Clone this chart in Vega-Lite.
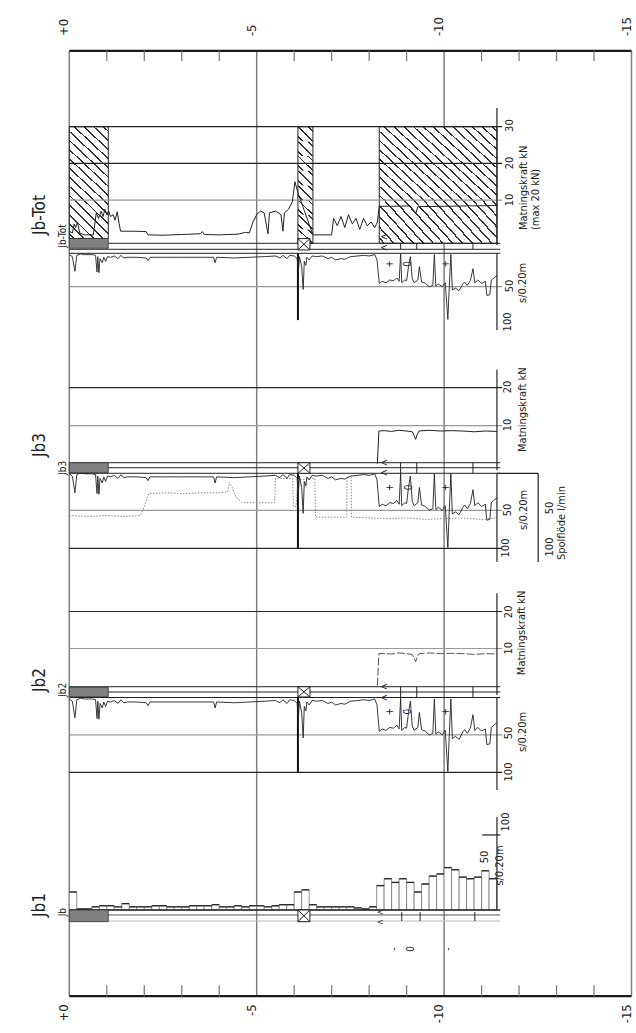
{
"$schema": "https://vega.github.io/schema/vega-lite/v6.json",
"width": 636, "height": 1033, "padding": 0, "autosize": {"type": "none"},
"background": "white",
"config": {"view": {"stroke": null}, "text": {"font": "DejaVu Sans Condensed, Liberation Sans Narrow, sans-serif", "color": "#222"}},
"data": {"values": [{}]},
"datasets": {
"scurve": [{"d":0,"s":2},{"d":0.08,"s":5},{"d":0.15,"s":27},{"d":0.2,"s":3},{"d":0.3,"s":1},{"d":0.4,"s":2},{"d":0.5,"s":2},{"d":0.62,"s":2},{"d":0.7,"s":3},{"d":0.74,"s":28},{"d":0.76,"s":5},{"d":0.79,"s":29},{"d":0.82,"s":8},{"d":0.88,"s":14},{"d":0.92,"s":6},{"d":0.97,"s":12},{"d":1.02,"s":5},{"d":1.1,"s":6},{"d":1.2,"s":4},{"d":1.3,"s":8},{"d":1.38,"s":3},{"d":1.45,"s":7},{"d":1.55,"s":6},{"d":1.8,"s":6},{"d":2.05,"s":7},{"d":2.1,"s":11},{"d":2.15,"s":6},{"d":2.6,"s":6},{"d":3.0,"s":6},{"d":3.5,"s":6},{"d":3.85,"s":6},{"d":3.89,"s":14},{"d":3.93,"s":6},{"d":4.4,"s":7},{"d":4.8,"s":6},{"d":5.2,"s":5},{"d":5.5,"s":4},{"d":5.62,"s":7},{"d":5.7,"s":3},{"d":5.81,"s":8},{"d":5.88,"s":3},{"d":6.0,"s":4},{"d":6.08,"s":8},{"d":6.11,"s":30},{"d":6.14,"s":5},{"d":6.2,"s":20},{"d":6.24,"s":54},{"d":6.27,"s":12},{"d":6.31,"s":18},{"d":6.34,"s":6},{"d":6.4,"s":10},{"d":6.48,"s":4},{"d":6.6,"s":5},{"d":6.75,"s":4},{"d":6.9,"s":8},{"d":7.0,"s":6},{"d":7.1,"s":10},{"d":7.25,"s":8},{"d":7.35,"s":9},{"d":7.5,"s":5},{"d":7.7,"s":4},{"d":7.85,"s":3},{"d":8.0,"s":4},{"d":8.15,"s":2},{"d":8.21,"s":10},{"d":8.27,"s":45},{"d":8.35,"s":42},{"d":8.45,"s":44},{"d":8.55,"s":40},{"d":8.65,"s":41},{"d":8.74,"s":37},{"d":8.8,"s":42},{"d":8.84,"s":1},{"d":8.87,"s":44},{"d":8.95,"s":40},{"d":9.0,"s":41},{"d":9.05,"s":20},{"d":9.1,"s":5},{"d":9.15,"s":38},{"d":9.2,"s":44},{"d":9.3,"s":40},{"d":9.34,"s":20},{"d":9.4,"s":43},{"d":9.5,"s":45},{"d":9.6,"s":50},{"d":9.7,"s":48},{"d":9.74,"s":2},{"d":9.78,"s":49},{"d":9.85,"s":46},{"d":9.95,"s":50},{"d":10.03,"s":44},{"d":10.08,"s":83},{"d":10.1,"s":99},{"d":10.13,"s":60},{"d":10.18,"s":2},{"d":10.22,"s":55},{"d":10.3,"s":52},{"d":10.4,"s":56},{"d":10.5,"s":46},{"d":10.55,"s":43},{"d":10.62,"s":48},{"d":10.7,"s":41},{"d":10.77,"s":23},{"d":10.82,"s":44},{"d":10.9,"s":40},{"d":11.0,"s":45},{"d":11.1,"s":42},{"d":11.14,"s":63},{"d":11.22,"s":62},{"d":11.26,"s":40},{"d":11.35,"s":36},{"d":11.41,"s":34}],
"flow": [{"d":0,"q":57},{"d":0.5,"q":58},{"d":1.0,"q":57},{"d":1.5,"q":58},{"d":1.9,"q":57},{"d":2.0,"q":45},{"d":2.12,"q":28},{"d":2.6,"q":27},{"d":3.0,"q":28},{"d":3.5,"q":27},{"d":4.0,"q":27},{"d":4.22,"q":26},{"d":4.27,"q":13},{"d":4.33,"q":18},{"d":4.45,"q":33},{"d":4.62,"q":40},{"d":5.0,"q":40},{"d":5.48,"q":40},{"d":5.5,"q":8},{"d":5.96,"q":8},{"d":5.98,"q":45},{"d":6.05,"q":45},{"d":6.1,"q":10},{"d":6.55,"q":8},{"d":6.57,"q":59},{"d":7.4,"q":59},{"d":7.41,"q":6},{"d":7.52,"q":6},{"d":7.53,"q":59},{"d":8.0,"q":60},{"d":8.5,"q":61},{"d":9.0,"q":60},{"d":9.5,"q":62},{"d":10.0,"q":61},{"d":10.5,"q":60},{"d":11.0,"q":62},{"d":11.41,"q":60}],
"kntot": [{"d":0,"k":1.5},{"d":0.08,"k":1},{"d":0.13,"k":3.5},{"d":0.17,"k":2.5},{"d":0.22,"k":4},{"d":0.28,"k":1},{"d":0.4,"k":0.5},{"d":0.64,"k":0.5},{"d":0.72,"k":6.5},{"d":0.78,"k":5},{"d":0.85,"k":7},{"d":0.9,"k":5.5},{"d":0.95,"k":7.5},{"d":1.0,"k":6},{"d":1.05,"k":7},{"d":1.1,"k":5.5},{"d":1.17,"k":6},{"d":1.22,"k":4.5},{"d":1.28,"k":6.8},{"d":1.33,"k":3.5},{"d":1.37,"k":1.5},{"d":1.7,"k":1.5},{"d":2.05,"k":1.4},{"d":2.1,"k":0.5},{"d":2.5,"k":0.4},{"d":3.0,"k":0.6},{"d":3.5,"k":0.8},{"d":3.55,"k":1.4},{"d":3.6,"k":0.6},{"d":4.0,"k":0.5},{"d":4.5,"k":0.7},{"d":4.7,"k":1.2},{"d":4.8,"k":1},{"d":4.9,"k":4},{"d":5.0,"k":6},{"d":5.1,"k":7},{"d":5.2,"k":6.5},{"d":5.3,"k":0.8},{"d":5.34,"k":6.5},{"d":5.5,"k":7},{"d":5.65,"k":6},{"d":5.7,"k":1.5},{"d":5.74,"k":6.5},{"d":5.85,"k":7.5},{"d":5.95,"k":9.5},{"d":6.02,"k":15},{"d":6.1,"k":12},{"d":6.5,"k":0.5},{"d":7.0,"k":0.5},{"d":7.05,"k":5},{"d":7.15,"k":3},{"d":7.25,"k":5.5},{"d":7.35,"k":2.5},{"d":7.45,"k":6},{"d":7.55,"k":3.5},{"d":7.65,"k":5},{"d":7.75,"k":2},{"d":7.85,"k":5},{"d":7.95,"k":3},{"d":8.05,"k":4},{"d":8.15,"k":2.5},{"d":8.22,"k":4},{"d":8.27,"k":8.3},{"d":8.6,"k":8.3},{"d":9.1,"k":8.4},{"d":9.2,"k":7},{"d":9.25,"k":6.5},{"d":9.3,"k":8.2},{"d":10.0,"k":8.3},{"d":10.7,"k":8.4},{"d":11.41,"k":8.5}],
"knhi": [{"d":8.22,"k":0},{"d":8.26,"k":8.6},{"d":8.4,"k":8.7},{"d":8.6,"k":8.5},{"d":8.8,"k":8.8},{"d":9.0,"k":8.6},{"d":9.15,"k":8.4},{"d":9.2,"k":7.4},{"d":9.24,"k":6.4},{"d":9.28,"k":7.6},{"d":9.33,"k":8.6},{"d":9.6,"k":8.8},{"d":9.9,"k":8.6},{"d":10.2,"k":8.7},{"d":10.5,"k":8.6},{"d":10.8,"k":8.4},{"d":11.1,"k":8.6},{"d":11.41,"k":8.5}],
"bars1": [{"d0":0,"d1":0.2,"s":17},{"d0":0.2,"d1":0.4,"s":1},{"d0":0.4,"d1":0.6,"s":1},{"d0":0.6,"d1":0.8,"s":3},{"d0":0.8,"d1":1.0,"s":4},{"d0":1.0,"d1":1.2,"s":4},{"d0":1.2,"d1":1.4,"s":3},{"d0":1.4,"d1":1.6,"s":6},{"d0":1.6,"d1":1.8,"s":3},{"d0":1.8,"d1":2.0,"s":3},{"d0":2.0,"d1":2.2,"s":3},{"d0":2.2,"d1":2.4,"s":4},{"d0":2.4,"d1":2.6,"s":4},{"d0":2.6,"d1":2.8,"s":3},{"d0":2.8,"d1":3.0,"s":3},{"d0":3.0,"d1":3.2,"s":3},{"d0":3.2,"d1":3.4,"s":4},{"d0":3.4,"d1":3.6,"s":4},{"d0":3.6,"d1":3.8,"s":4},{"d0":3.8,"d1":4.0,"s":5},{"d0":4.0,"d1":4.2,"s":3},{"d0":4.2,"d1":4.4,"s":3},{"d0":4.4,"d1":4.6,"s":4},{"d0":4.6,"d1":4.8,"s":3},{"d0":4.8,"d1":5.0,"s":4},{"d0":5.0,"d1":5.2,"s":4},{"d0":5.2,"d1":5.4,"s":3},{"d0":5.4,"d1":5.6,"s":4},{"d0":5.6,"d1":5.8,"s":5},{"d0":5.8,"d1":6.0,"s":5},{"d0":6.0,"d1":6.2,"s":17},{"d0":6.2,"d1":6.4,"s":19},{"d0":6.4,"d1":6.6,"s":5},{"d0":6.6,"d1":6.8,"s":3},{"d0":6.8,"d1":7.0,"s":3},{"d0":7.0,"d1":7.2,"s":3},{"d0":7.2,"d1":7.4,"s":3},{"d0":7.4,"d1":7.6,"s":3},{"d0":7.6,"d1":7.8,"s":2},{"d0":7.8,"d1":8.0,"s":1},{"d0":8.0,"d1":8.2,"s":3},{"d0":8.2,"d1":8.4,"s":23},{"d0":8.4,"d1":8.6,"s":29.5},{"d0":8.6,"d1":8.8,"s":26},{"d0":8.8,"d1":9.0,"s":29.5},{"d0":9.0,"d1":9.2,"s":26},{"d0":9.2,"d1":9.4,"s":17},{"d0":9.4,"d1":9.6,"s":24.5},{"d0":9.6,"d1":9.8,"s":32},{"d0":9.8,"d1":10.0,"s":34},{"d0":10.0,"d1":10.2,"s":40},{"d0":10.2,"d1":10.4,"s":38},{"d0":10.4,"d1":10.6,"s":31},{"d0":10.6,"d1":10.8,"s":29.5},{"d0":10.8,"d1":11.0,"s":31},{"d0":11.0,"d1":11.2,"s":37},{"d0":11.2,"d1":11.4,"s":29.5}],
"ticks": [{"d":1},{"d":2},{"d":3},{"d":4},{"d":6},{"d":7},{"d":8},{"d":9},{"d":11},{"d":12},{"d":13},{"d":14}],
"bandticks": [{"d":8.84},{"d":9.27},{"d":10.77}]
},
"resolve": {"scale": {"y": "independent"}},
"layer": [
{"layer": [
 {"data": {"values": [{"d":0},{"d":5},{"d":10},{"d":15}]}, "mark": {"type":"rule","color":"#808080","strokeWidth":1.5},
  "encoding": {"x": {"field":"d","type":"quantitative","scale":{"domain":[-1.849,15.12],"nice":false,"zero":false},"axis":null}, "y": {"datum":50.7,"type":"quantitative","scale":{"domain":[-217.15,64.55],"nice":false,"zero":false},"axis":null}, "y2": {"datum":-207.1}}},
 {"mark": {"type":"rule","color":"#1a1a1a","strokeWidth":2.2},
  "encoding": {"x": {"datum":0,"type":"quantitative","scale":{"domain":[-1.849,15.12],"nice":false,"zero":false},"axis":null}, "x2": {"datum":15}, "y": {"datum":50.7,"type":"quantitative","scale":{"domain":[-217.15,64.55],"nice":false,"zero":false},"axis":null}}},
 {"mark": {"type":"rule","color":"#1a1a1a","strokeWidth":2.2},
  "encoding": {"x": {"datum":0,"type":"quantitative","scale":{"domain":[-1.849,15.12],"nice":false,"zero":false},"axis":null}, "x2": {"datum":15}, "y": {"datum":-207.1,"type":"quantitative","scale":{"domain":[-217.15,64.55],"nice":false,"zero":false},"axis":null}}},
 {"data": {"name":"ticks"}, "mark": {"type":"rule","color":"#777","strokeWidth":1.2},
  "encoding": {"x": {"field":"d","type":"quantitative","scale":{"domain":[-1.849,15.12],"nice":false,"zero":false},"axis":null}, "y": {"datum":50.7,"type":"quantitative","scale":{"domain":[-217.15,64.55],"nice":false,"zero":false},"axis":null}, "y2": {"datum":47.9}}},
 {"data": {"name":"ticks"}, "mark": {"type":"rule","color":"#777","strokeWidth":1.2},
  "encoding": {"x": {"field":"d","type":"quantitative","scale":{"domain":[-1.849,15.12],"nice":false,"zero":false},"axis":null}, "y": {"datum":-204.1,"type":"quantitative","scale":{"domain":[-217.15,64.55],"nice":false,"zero":false},"axis":null}, "y2": {"datum":-207.1}}},
 {"data": {"values": [{"d":0,"t":"+0"},{"d":5,"t":"-5"},{"d":10,"t":"-10"},{"d":15,"t":"-15"}]}, "mark": {"type":"text","angle":270,"align":"left","baseline":"middle","dy":-5,"fontSize":13},
  "encoding": {"x": {"field":"d","type":"quantitative","scale":{"domain":[-1.849,15.12],"nice":false,"zero":false},"axis":null}, "y": {"datum":54.7,"type":"quantitative","scale":{"domain":[-217.15,64.55],"nice":false,"zero":false},"axis":null}, "text": {"field":"t"}}},
 {"data": {"values": [{"d":0,"t":"+0"},{"d":5,"t":"-5"},{"d":10,"t":"-10"},{"d":15,"t":"-15"}]}, "mark": {"type":"text","angle":270,"align":"right","baseline":"middle","dy":-5,"fontSize":13},
  "encoding": {"x": {"field":"d","type":"quantitative","scale":{"domain":[-1.849,15.12],"nice":false,"zero":false},"axis":null}, "y": {"datum":-209.3,"type":"quantitative","scale":{"domain":[-217.15,64.55],"nice":false,"zero":false},"axis":null}, "text": {"field":"t"}}}
]},
{"layer": [
 {"data": {"values": [{"d0":0,"d1":1.04,"k0":-0.5,"k1":10},{"d0":0,"d1":1.04,"k0":10,"k1":20},{"d0":0,"d1":1.04,"k0":20,"k1":30},{"d0":8.27,"d1":9.317,"k0":-1.8,"k1":10},{"d0":8.27,"d1":9.317,"k0":10,"k1":20},{"d0":8.27,"d1":9.317,"k0":20,"k1":30},{"d0":9.317,"d1":10.363,"k0":-1.8,"k1":10},{"d0":9.317,"d1":10.363,"k0":10,"k1":20},{"d0":9.317,"d1":10.363,"k0":20,"k1":30},{"d0":10.363,"d1":11.41,"k0":-1.8,"k1":10},{"d0":10.363,"d1":11.41,"k0":10,"k1":20},{"d0":10.363,"d1":11.41,"k0":20,"k1":30}]},
  "mark": {"type":"rect","fill":{"gradient":"linear","x1":0,"y1":1,"x2":1,"y2":0,"stops":[{"offset":0,"color":"#ffffff"},{"offset":0.0505,"color":"#ffffff"},{"offset":0.0505,"color":"#333333"},{"offset":0.0745,"color":"#333333"},{"offset":0.0745,"color":"#ffffff"},{"offset":0.1755,"color":"#ffffff"},{"offset":0.1755,"color":"#333333"},{"offset":0.1995,"color":"#333333"},{"offset":0.1995,"color":"#ffffff"},{"offset":0.3005,"color":"#ffffff"},{"offset":0.3005,"color":"#333333"},{"offset":0.3245,"color":"#333333"},{"offset":0.3245,"color":"#ffffff"},{"offset":0.4255,"color":"#ffffff"},{"offset":0.4255,"color":"#333333"},{"offset":0.4495,"color":"#333333"},{"offset":0.4495,"color":"#ffffff"},{"offset":0.5505,"color":"#ffffff"},{"offset":0.5505,"color":"#333333"},{"offset":0.5745,"color":"#333333"},{"offset":0.5745,"color":"#ffffff"},{"offset":0.6755,"color":"#ffffff"},{"offset":0.6755,"color":"#333333"},{"offset":0.6995,"color":"#333333"},{"offset":0.6995,"color":"#ffffff"},{"offset":0.8005,"color":"#ffffff"},{"offset":0.8005,"color":"#333333"},{"offset":0.8245,"color":"#333333"},{"offset":0.8245,"color":"#ffffff"},{"offset":0.9255,"color":"#ffffff"},{"offset":0.9255,"color":"#333333"},{"offset":0.9495,"color":"#333333"},{"offset":0.9495,"color":"#ffffff"},{"offset":1,"color":"#ffffff"}]}},
  "encoding": {"x": {"field":"d0","type":"quantitative","scale":{"domain":[-1.849,15.12],"nice":false,"zero":false},"axis":null}, "x2": {"field":"d1"}, "y": {"field":"k0","type":"quantitative","scale":{"domain":[-217.15,64.55],"nice":false,"zero":false},"axis":null}, "y2": {"field":"k1"}}},
 {"data": {"values": [{"d0":6.1,"d1":6.5,"k0":-1.8,"k1":2},{"d0":6.1,"d1":6.5,"k0":2,"k1":6},{"d0":6.1,"d1":6.5,"k0":6,"k1":10},{"d0":6.1,"d1":6.5,"k0":10,"k1":14},{"d0":6.1,"d1":6.5,"k0":14,"k1":18},{"d0":6.1,"d1":6.5,"k0":18,"k1":22},{"d0":6.1,"d1":6.5,"k0":22,"k1":26},{"d0":6.1,"d1":6.5,"k0":26,"k1":30}]},
  "mark": {"type":"rect","fill":{"gradient":"linear","x1":0,"y1":1,"x2":1,"y2":0,"stops":[{"offset":0,"color":"#ffffff"},{"offset":0.137,"color":"#ffffff"},{"offset":0.137,"color":"#333333"},{"offset":0.197,"color":"#333333"},{"offset":0.197,"color":"#ffffff"},{"offset":0.47,"color":"#ffffff"},{"offset":0.47,"color":"#333333"},{"offset":0.53,"color":"#333333"},{"offset":0.53,"color":"#ffffff"},{"offset":0.803,"color":"#ffffff"},{"offset":0.803,"color":"#333333"},{"offset":0.863,"color":"#333333"},{"offset":0.863,"color":"#ffffff"},{"offset":1,"color":"#ffffff"}]}},
  "encoding": {"x": {"field":"d0","type":"quantitative","scale":{"domain":[-1.849,15.12],"nice":false,"zero":false},"axis":null}, "x2": {"field":"d1"}, "y": {"field":"k0","type":"quantitative","scale":{"domain":[-217.15,64.55],"nice":false,"zero":false},"axis":null}, "y2": {"field":"k1"}}},
 {"data": {"values": [{"d0":0,"d1":1.04,"k0":-0.5,"k1":30},{"d0":6.1,"d1":6.5,"k0":-1.8,"k1":30},{"d0":8.27,"d1":11.41,"k0":-1.8,"k1":30}]},
  "mark": {"type":"rect","fillOpacity":0,"stroke":"#222","strokeWidth":1},
  "encoding": {"x": {"field":"d0","type":"quantitative","scale":{"domain":[-1.849,15.12],"nice":false,"zero":false},"axis":null}, "x2": {"field":"d1"}, "y": {"field":"k0","type":"quantitative","scale":{"domain":[-217.15,64.55],"nice":false,"zero":false},"axis":null}, "y2": {"field":"k1"}}},
 {"data": {"values": [{"k":30},{"k":20}]}, "mark": {"type":"rule","color":"#222","strokeWidth":1.2},
  "encoding": {"x": {"datum":0,"type":"quantitative","scale":{"domain":[-1.849,15.12],"nice":false,"zero":false},"axis":null}, "x2": {"datum":11.55}, "y": {"field":"k","type":"quantitative","scale":{"domain":[-217.15,64.55],"nice":false,"zero":false},"axis":null}}},
 {"data": {"values": [{"k":10}]}, "mark": {"type":"rule","color":"#999","strokeWidth":1.2},
  "encoding": {"x": {"datum":0,"type":"quantitative","scale":{"domain":[-1.849,15.12],"nice":false,"zero":false},"axis":null}, "x2": {"datum":11.55}, "y": {"field":"k","type":"quantitative","scale":{"domain":[-217.15,64.55],"nice":false,"zero":false},"axis":null}}},
 {"mark": {"type":"rule","color":"#222","strokeWidth":1.2},
  "encoding": {"x": {"datum":11.41,"type":"quantitative","scale":{"domain":[-1.849,15.12],"nice":false,"zero":false},"axis":null}, "y": {"datum":35.1,"type":"quantitative","scale":{"domain":[-217.15,64.55],"nice":false,"zero":false},"axis":null}, "y2": {"datum":-2.3}}},
 {"data": {"name":"kntot"}, "mark": {"type":"line","color":"#222","strokeWidth":1},
  "encoding": {"x": {"field":"d","type":"quantitative","scale":{"domain":[-1.849,15.12],"nice":false,"zero":false},"axis":null}, "y": {"field":"k","type":"quantitative","scale":{"domain":[-217.15,64.55],"nice":false,"zero":false},"axis":null}}},
 {"data": {"values": [{"d":11.76,"k":30.3,"t":"30"},{"d":11.76,"k":20.1,"t":"20"},{"d":11.76,"k":10,"t":"10"}]}, "mark": {"type":"text","angle":270,"align":"center","baseline":"middle","fontSize":11},
  "encoding": {"x": {"field":"d","type":"quantitative","scale":{"domain":[-1.849,15.12],"nice":false,"zero":false},"axis":null}, "y": {"field":"k","type":"quantitative","scale":{"domain":[-217.15,64.55],"nice":false,"zero":false},"axis":null}, "text": {"field":"t"}}},
 {"data": {"values": [{"d":12.13,"k":1.8,"t":"Matningskraft kN"},{"d":12.45,"k":1.8,"t":"(max 20 kN)"}]}, "mark": {"type":"text","angle":270,"align":"left","baseline":"middle","fontSize":11},
  "encoding": {"x": {"field":"d","type":"quantitative","scale":{"domain":[-1.849,15.12],"nice":false,"zero":false},"axis":null}, "y": {"field":"k","type":"quantitative","scale":{"domain":[-217.15,64.55],"nice":false,"zero":false},"axis":null}, "text": {"field":"t"}}},
 {"data": {"values": [{"d":-0.78,"k":5.9,"t":"Jb-Tot"}]}, "mark": {"type":"text","angle":270,"align":"center","baseline":"middle","fontSize":17},
  "encoding": {"x": {"field":"d","type":"quantitative","scale":{"domain":[-1.849,15.12],"nice":false,"zero":false},"axis":null}, "y": {"field":"k","type":"quantitative","scale":{"domain":[-217.15,64.55],"nice":false,"zero":false},"axis":null}, "text": {"field":"t"}}},
 {"data": {"values": [{"d":-0.17,"k":0.2,"t":"Jb-Tot"}]}, "mark": {"type":"text","angle":270,"align":"center","baseline":"middle","fontSize":10},
  "encoding": {"x": {"field":"d","type":"quantitative","scale":{"domain":[-1.849,15.12],"nice":false,"zero":false},"axis":null}, "y": {"field":"k","type":"quantitative","scale":{"domain":[-217.15,64.55],"nice":false,"zero":false},"axis":null}, "text": {"field":"t"}}}
]},
{"layer": [
 {"data": {"values": [{"v":-15},{"v":-6},{"v":0}]}, "mark": {"type":"rule","color":"#222","strokeWidth":1},
  "encoding": {"x": {"datum":0,"type":"quantitative","scale":{"domain":[-1.849,15.12],"nice":false,"zero":false},"axis":null}, "x2": {"datum":11.5}, "y": {"field":"v","type":"quantitative","scale":{"domain":[1167.2,-379.19],"nice":false,"zero":false},"axis":null}}},
 {"data": {"values": [{"v":50}]}, "mark": {"type":"rule","color":"#999","strokeWidth":1.2},
  "encoding": {"x": {"datum":0,"type":"quantitative","scale":{"domain":[-1.849,15.12],"nice":false,"zero":false},"axis":null}, "x2": {"datum":11.55}, "y": {"field":"v","type":"quantitative","scale":{"domain":[1167.2,-379.19],"nice":false,"zero":false},"axis":null}}},
 {"mark": {"type":"rule","color":"#222","strokeWidth":1.2},
  "encoding": {"x": {"datum":11.41,"type":"quantitative","scale":{"domain":[-1.849,15.12],"nice":false,"zero":false},"axis":null}, "y": {"datum":0,"type":"quantitative","scale":{"domain":[1167.2,-379.19],"nice":false,"zero":false},"axis":null}, "y2": {"datum":115}}},
 {"mark": {"type":"rule","color":"#111","strokeWidth":2},
  "encoding": {"x": {"datum":6.1,"type":"quantitative","scale":{"domain":[-1.849,15.12],"nice":false,"zero":false},"axis":null}, "y": {"datum":0,"type":"quantitative","scale":{"domain":[1167.2,-379.19],"nice":false,"zero":false},"axis":null}, "y2": {"datum":100}}},
 {"data": {"name":"scurve"}, "mark": {"type":"line","color":"#222","strokeWidth":0.9},
  "encoding": {"x": {"field":"d","type":"quantitative","scale":{"domain":[-1.849,15.12],"nice":false,"zero":false},"axis":null}, "y": {"field":"s","type":"quantitative","scale":{"domain":[1167.2,-379.19],"nice":false,"zero":false},"axis":null}}},
 {"mark": {"type":"rect","fill":"#808080","stroke":"#333","strokeWidth":0.8},
  "encoding": {"x": {"datum":0,"type":"quantitative","scale":{"domain":[-1.849,15.12],"nice":false,"zero":false},"axis":null}, "x2": {"datum":1.04}, "y": {"datum":-22.3,"type":"quantitative","scale":{"domain":[1167.2,-379.19],"nice":false,"zero":false},"axis":null}, "y2": {"datum":-7.5}}},
 {"mark": {"type":"rect","fill":"#fff","stroke":"#222","strokeWidth":1},
  "encoding": {"x": {"datum":6.1,"type":"quantitative","scale":{"domain":[-1.849,15.12],"nice":false,"zero":false},"axis":null}, "x2": {"datum":6.42}, "y": {"datum":-22,"type":"quantitative","scale":{"domain":[1167.2,-379.19],"nice":false,"zero":false},"axis":null}, "y2": {"datum":-5}}},
 {"data": {"values": [{"a":6.1,"b":6.42,"p":-22,"q":-5},{"a":6.1,"b":6.42,"p":-5,"q":-22}]}, "mark": {"type":"rule","color":"#222","strokeWidth":1},
  "encoding": {"x": {"field":"a","type":"quantitative","scale":{"domain":[-1.849,15.12],"nice":false,"zero":false},"axis":null}, "x2": {"field":"b"}, "y": {"field":"p","type":"quantitative","scale":{"domain":[1167.2,-379.19],"nice":false,"zero":false},"axis":null}, "y2": {"field":"q"}}},
 {"data": {"name":"bandticks"}, "mark": {"type":"rule","color":"#222","strokeWidth":1},
  "encoding": {"x": {"field":"d","type":"quantitative","scale":{"domain":[-1.849,15.12],"nice":false,"zero":false},"axis":null}, "y": {"datum":-15,"type":"quantitative","scale":{"domain":[1167.2,-379.19],"nice":false,"zero":false},"axis":null}, "y2": {"datum":-6}}},
 {"data": {"values": [{"d":8.56,"v":16,"t":"+"},{"d":9.04,"v":16,"t":"0"},{"d":10.04,"v":16,"t":"+"}]}, "mark": {"type":"text","angle":270,"align":"center","baseline":"middle","fontSize":10},
  "encoding": {"x": {"field":"d","type":"quantitative","scale":{"domain":[-1.849,15.12],"nice":false,"zero":false},"axis":null}, "y": {"field":"v","type":"quantitative","scale":{"domain":[1167.2,-379.19],"nice":false,"zero":false},"axis":null}, "text": {"field":"t"}}},
 {"data": {"values": [{"d":8.4,"v":-24.9,"t":"<"},{"d":8.4,"v":-7.5,"t":"<"}]}, "mark": {"type":"text","align":"center","baseline":"middle","fontSize":10},
  "encoding": {"x": {"field":"d","type":"quantitative","scale":{"domain":[-1.849,15.12],"nice":false,"zero":false},"axis":null}, "y": {"field":"v","type":"quantitative","scale":{"domain":[1167.2,-379.19],"nice":false,"zero":false},"axis":null}, "text": {"field":"t"}}},
 {"data": {"values": [{"d":11.76,"v":49,"t":"50"},{"d":11.71,"v":102.8,"t":"100"}]}, "mark": {"type":"text","angle":270,"align":"center","baseline":"middle","fontSize":11},
  "encoding": {"x": {"field":"d","type":"quantitative","scale":{"domain":[-1.849,15.12],"nice":false,"zero":false},"axis":null}, "y": {"field":"v","type":"quantitative","scale":{"domain":[1167.2,-379.19],"nice":false,"zero":false},"axis":null}, "text": {"field":"t"}}},
 {"data": {"values": [{"d":12.11,"v":74.4,"t":"s/0.20m"}]}, "mark": {"type":"text","angle":270,"align":"left","baseline":"middle","fontSize":11},
  "encoding": {"x": {"field":"d","type":"quantitative","scale":{"domain":[-1.849,15.12],"nice":false,"zero":false},"axis":null}, "y": {"field":"v","type":"quantitative","scale":{"domain":[1167.2,-379.19],"nice":false,"zero":false},"axis":null}, "text": {"field":"t"}}}
]},
{"layer": [
 {"data": {"values": [{"k":20}]}, "mark": {"type":"rule","color":"#222","strokeWidth":1.2},
  "encoding": {"x": {"datum":0,"type":"quantitative","scale":{"domain":[-1.849,15.12],"nice":false,"zero":false},"axis":null}, "x2": {"datum":11.55}, "y": {"field":"k","type":"quantitative","scale":{"domain":[-149.82,122.03],"nice":false,"zero":false},"axis":null}}},
 {"data": {"values": [{"k":10}]}, "mark": {"type":"rule","color":"#999","strokeWidth":1.2},
  "encoding": {"x": {"datum":0,"type":"quantitative","scale":{"domain":[-1.849,15.12],"nice":false,"zero":false},"axis":null}, "x2": {"datum":11.55}, "y": {"field":"k","type":"quantitative","scale":{"domain":[-149.82,122.03],"nice":false,"zero":false},"axis":null}}},
 {"mark": {"type":"rule","color":"#222","strokeWidth":1.2},
  "encoding": {"x": {"datum":11.41,"type":"quantitative","scale":{"domain":[-1.849,15.12],"nice":false,"zero":false},"axis":null}, "y": {"datum":24.7,"type":"quantitative","scale":{"domain":[-149.82,122.03],"nice":false,"zero":false},"axis":null}, "y2": {"datum":-1.7}}},
 {"data": {"name":"knhi"}, "mark": {"type":"line","color":"#222","strokeWidth":1},
  "encoding": {"x": {"field":"d","type":"quantitative","scale":{"domain":[-1.849,15.12],"nice":false,"zero":false},"axis":null}, "y": {"field":"k","type":"quantitative","scale":{"domain":[-149.82,122.03],"nice":false,"zero":false},"axis":null}}},
 {"data": {"values": [{"d":11.7,"k":20.2,"t":"20"},{"d":11.7,"k":10.2,"t":"10"}]}, "mark": {"type":"text","angle":270,"align":"center","baseline":"middle","fontSize":11},
  "encoding": {"x": {"field":"d","type":"quantitative","scale":{"domain":[-1.849,15.12],"nice":false,"zero":false},"axis":null}, "y": {"field":"k","type":"quantitative","scale":{"domain":[-149.82,122.03],"nice":false,"zero":false},"axis":null}, "text": {"field":"t"}}},
 {"data": {"values": [{"d":12.1,"k":3.1,"t":"Matningskraft kN"}]}, "mark": {"type":"text","angle":270,"align":"left","baseline":"middle","fontSize":11},
  "encoding": {"x": {"field":"d","type":"quantitative","scale":{"domain":[-1.849,15.12],"nice":false,"zero":false},"axis":null}, "y": {"field":"k","type":"quantitative","scale":{"domain":[-149.82,122.03],"nice":false,"zero":false},"axis":null}, "text": {"field":"t"}}},
 {"data": {"values": [{"d":-0.78,"k":4.9,"t":"Jb3"}]}, "mark": {"type":"text","angle":270,"align":"center","baseline":"middle","fontSize":17},
  "encoding": {"x": {"field":"d","type":"quantitative","scale":{"domain":[-1.849,15.12],"nice":false,"zero":false},"axis":null}, "y": {"field":"k","type":"quantitative","scale":{"domain":[-149.82,122.03],"nice":false,"zero":false},"axis":null}, "text": {"field":"t"}}},
 {"data": {"values": [{"d":-0.17,"k":-1.1,"t":"Jb3"}]}, "mark": {"type":"text","angle":270,"align":"center","baseline":"middle","fontSize":10},
  "encoding": {"x": {"field":"d","type":"quantitative","scale":{"domain":[-1.849,15.12],"nice":false,"zero":false},"axis":null}, "y": {"field":"k","type":"quantitative","scale":{"domain":[-149.82,122.03],"nice":false,"zero":false},"axis":null}, "text": {"field":"t"}}}
]},
{"layer": [
 {"data": {"values": [{"v":-12.6},{"v":-6.05},{"v":1.3}]}, "mark": {"type":"rule","color":"#222","strokeWidth":1},
  "encoding": {"x": {"datum":0,"type":"quantitative","scale":{"domain":[-1.849,15.12],"nice":false,"zero":false},"axis":null}, "x2": {"datum":11.5}, "y": {"field":"v","type":"quantitative","scale":{"domain":[737.76,-621.45],"nice":false,"zero":false},"axis":null}}},
 {"data": {"values": [{"v":50}]}, "mark": {"type":"rule","color":"#999","strokeWidth":1.2},
  "encoding": {"x": {"datum":0,"type":"quantitative","scale":{"domain":[-1.849,15.12],"nice":false,"zero":false},"axis":null}, "x2": {"datum":11.55}, "y": {"field":"v","type":"quantitative","scale":{"domain":[737.76,-621.45],"nice":false,"zero":false},"axis":null}}},
 {"data": {"values": [{"v":100}]}, "mark": {"type":"rule","color":"#222","strokeWidth":1.2},
  "encoding": {"x": {"datum":0,"type":"quantitative","scale":{"domain":[-1.849,15.12],"nice":false,"zero":false},"axis":null}, "x2": {"datum":11.55}, "y": {"field":"v","type":"quantitative","scale":{"domain":[737.76,-621.45],"nice":false,"zero":false},"axis":null}}},
 {"data": {"values": [{"d":11.41},{"d":12.51}]}, "mark": {"type":"rule","color":"#222","strokeWidth":1.2},
  "encoding": {"x": {"field":"d","type":"quantitative","scale":{"domain":[-1.849,15.12],"nice":false,"zero":false},"axis":null}, "y": {"datum":1.3,"type":"quantitative","scale":{"domain":[737.76,-621.45],"nice":false,"zero":false},"axis":null}, "y2": {"datum":118}}},
 {"mark": {"type":"rule","color":"#222","strokeWidth":1.2},
  "encoding": {"x": {"datum":11.41,"type":"quantitative","scale":{"domain":[-1.849,15.12],"nice":false,"zero":false},"axis":null}, "x2": {"datum":12.51}, "y": {"datum":1.3,"type":"quantitative","scale":{"domain":[737.76,-621.45],"nice":false,"zero":false},"axis":null}}},
 {"mark": {"type":"rule","color":"#111","strokeWidth":2},
  "encoding": {"x": {"datum":6.1,"type":"quantitative","scale":{"domain":[-1.849,15.12],"nice":false,"zero":false},"axis":null}, "y": {"datum":1.3,"type":"quantitative","scale":{"domain":[737.76,-621.45],"nice":false,"zero":false},"axis":null}, "y2": {"datum":100}}},
 {"data": {"name":"flow"}, "mark": {"type":"line","color":"#8a8a8a","strokeWidth":1,"strokeDash":[1.5,1.5]},
  "encoding": {"x": {"field":"d","type":"quantitative","scale":{"domain":[-1.849,15.12],"nice":false,"zero":false},"axis":null}, "y": {"field":"q","type":"quantitative","scale":{"domain":[737.76,-621.45],"nice":false,"zero":false},"axis":null}}},
 {"data": {"name":"scurve"}, "mark": {"type":"line","color":"#222","strokeWidth":0.9},
  "encoding": {"x": {"field":"d","type":"quantitative","scale":{"domain":[-1.849,15.12],"nice":false,"zero":false},"axis":null}, "y": {"field":"s","type":"quantitative","scale":{"domain":[737.76,-621.45],"nice":false,"zero":false},"axis":null}}},
 {"mark": {"type":"rect","fill":"#808080","stroke":"#333","strokeWidth":0.8},
  "encoding": {"x": {"datum":0,"type":"quantitative","scale":{"domain":[-1.849,15.12],"nice":false,"zero":false},"axis":null}, "x2": {"datum":1.04}, "y": {"datum":-12.6,"type":"quantitative","scale":{"domain":[737.76,-621.45],"nice":false,"zero":false},"axis":null}, "y2": {"datum":0.5}}},
 {"mark": {"type":"rect","fill":"#fff","stroke":"#222","strokeWidth":1},
  "encoding": {"x": {"datum":6.1,"type":"quantitative","scale":{"domain":[-1.849,15.12],"nice":false,"zero":false},"axis":null}, "x2": {"datum":6.42}, "y": {"datum":-12.6,"type":"quantitative","scale":{"domain":[737.76,-621.45],"nice":false,"zero":false},"axis":null}, "y2": {"datum":1.3}}},
 {"data": {"values": [{"a":6.1,"b":6.42,"p":-12.6,"q":1.3},{"a":6.1,"b":6.42,"p":1.3,"q":-12.6}]}, "mark": {"type":"rule","color":"#222","strokeWidth":1},
  "encoding": {"x": {"field":"a","type":"quantitative","scale":{"domain":[-1.849,15.12],"nice":false,"zero":false},"axis":null}, "x2": {"field":"b"}, "y": {"field":"p","type":"quantitative","scale":{"domain":[737.76,-621.45],"nice":false,"zero":false},"axis":null}, "y2": {"field":"q"}}},
 {"data": {"name":"bandticks"}, "mark": {"type":"rule","color":"#222","strokeWidth":1},
  "encoding": {"x": {"field":"d","type":"quantitative","scale":{"domain":[-1.849,15.12],"nice":false,"zero":false},"axis":null}, "y": {"datum":-12.6,"type":"quantitative","scale":{"domain":[737.76,-621.45],"nice":false,"zero":false},"axis":null}, "y2": {"datum":1.3}}},
 {"data": {"values": [{"d":8.56,"v":20,"t":"+"},{"d":9.06,"v":20,"t":"0"},{"d":10.04,"v":20,"t":"+"}]}, "mark": {"type":"text","angle":270,"align":"center","baseline":"middle","fontSize":10},
  "encoding": {"x": {"field":"d","type":"quantitative","scale":{"domain":[-1.849,15.12],"nice":false,"zero":false},"axis":null}, "y": {"field":"v","type":"quantitative","scale":{"domain":[737.76,-621.45],"nice":false,"zero":false},"axis":null}, "text": {"field":"t"}}},
 {"data": {"values": [{"d":8.4,"v":-12.6,"t":"<"},{"d":8.4,"v":1.3,"t":"<"}]}, "mark": {"type":"text","align":"center","baseline":"middle","fontSize":10},
  "encoding": {"x": {"field":"d","type":"quantitative","scale":{"domain":[-1.849,15.12],"nice":false,"zero":false},"axis":null}, "y": {"field":"v","type":"quantitative","scale":{"domain":[737.76,-621.45],"nice":false,"zero":false},"axis":null}, "text": {"field":"t"}}},
 {"data": {"values": [{"d":11.7,"v":49.6,"t":"50"},{"d":11.66,"v":99.6,"t":"100"},{"d":12.82,"v":98.3,"t":"100"},{"d":12.82,"v":47,"t":"50"}]}, "mark": {"type":"text","angle":270,"align":"center","baseline":"middle","fontSize":11},
  "encoding": {"x": {"field":"d","type":"quantitative","scale":{"domain":[-1.849,15.12],"nice":false,"zero":false},"axis":null}, "y": {"field":"v","type":"quantitative","scale":{"domain":[737.76,-621.45],"nice":false,"zero":false},"axis":null}, "text": {"field":"t"}}},
 {"data": {"values": [{"d":12.13,"v":75.9,"t":"s/0.20m"},{"d":13.14,"v":115.4,"t":"Spolflöde l/min"}]}, "mark": {"type":"text","angle":270,"align":"left","baseline":"middle","fontSize":11},
  "encoding": {"x": {"field":"d","type":"quantitative","scale":{"domain":[-1.849,15.12],"nice":false,"zero":false},"axis":null}, "y": {"field":"v","type":"quantitative","scale":{"domain":[737.76,-621.45],"nice":false,"zero":false},"axis":null}, "text": {"field":"t"}}}
]},
{"layer": [
 {"data": {"values": [{"k":20}]}, "mark": {"type":"rule","color":"#222","strokeWidth":1.2},
  "encoding": {"x": {"datum":0,"type":"quantitative","scale":{"domain":[-1.849,15.12],"nice":false,"zero":false},"axis":null}, "x2": {"datum":11.55}, "y": {"field":"k","type":"quantitative","scale":{"domain":[-93.92,185.27],"nice":false,"zero":false},"axis":null}}},
 {"data": {"values": [{"k":10}]}, "mark": {"type":"rule","color":"#999","strokeWidth":1.2},
  "encoding": {"x": {"datum":0,"type":"quantitative","scale":{"domain":[-1.849,15.12],"nice":false,"zero":false},"axis":null}, "x2": {"datum":11.55}, "y": {"field":"k","type":"quantitative","scale":{"domain":[-93.92,185.27],"nice":false,"zero":false},"axis":null}}},
 {"mark": {"type":"rule","color":"#222","strokeWidth":1.2},
  "encoding": {"x": {"datum":11.41,"type":"quantitative","scale":{"domain":[-1.849,15.12],"nice":false,"zero":false},"axis":null}, "y": {"datum":24.9,"type":"quantitative","scale":{"domain":[-93.92,185.27],"nice":false,"zero":false},"axis":null}, "y2": {"datum":-2.6}}},
 {"data": {"name":"knhi"}, "mark": {"type":"line","color":"#555","strokeWidth":1,"strokeDash":[8,2]},
  "encoding": {"x": {"field":"d","type":"quantitative","scale":{"domain":[-1.849,15.12],"nice":false,"zero":false},"axis":null}, "y": {"field":"k","type":"quantitative","scale":{"domain":[-93.92,185.27],"nice":false,"zero":false},"axis":null}}},
 {"data": {"values": [{"d":11.72,"k":19.9,"t":"20"},{"d":11.72,"k":10.1,"t":"10"}]}, "mark": {"type":"text","angle":270,"align":"center","baseline":"middle","fontSize":11},
  "encoding": {"x": {"field":"d","type":"quantitative","scale":{"domain":[-1.849,15.12],"nice":false,"zero":false},"axis":null}, "y": {"field":"k","type":"quantitative","scale":{"domain":[-93.92,185.27],"nice":false,"zero":false},"axis":null}, "text": {"field":"t"}}},
 {"data": {"values": [{"d":12.08,"k":2.8,"t":"Matningskraft kN"}]}, "mark": {"type":"text","angle":270,"align":"left","baseline":"middle","fontSize":11},
  "encoding": {"x": {"field":"d","type":"quantitative","scale":{"domain":[-1.849,15.12],"nice":false,"zero":false},"axis":null}, "y": {"field":"k","type":"quantitative","scale":{"domain":[-93.92,185.27],"nice":false,"zero":false},"axis":null}, "text": {"field":"t"}}},
 {"data": {"values": [{"d":-0.78,"k":1.5,"t":"Jb2"}]}, "mark": {"type":"text","angle":270,"align":"center","baseline":"middle","fontSize":17},
  "encoding": {"x": {"field":"d","type":"quantitative","scale":{"domain":[-1.849,15.12],"nice":false,"zero":false},"axis":null}, "y": {"field":"k","type":"quantitative","scale":{"domain":[-93.92,185.27],"nice":false,"zero":false},"axis":null}, "text": {"field":"t"}}},
 {"data": {"values": [{"d":-0.17,"k":-1.2,"t":"Jb2"}]}, "mark": {"type":"text","angle":270,"align":"center","baseline":"middle","fontSize":10},
  "encoding": {"x": {"field":"d","type":"quantitative","scale":{"domain":[-1.849,15.12],"nice":false,"zero":false},"axis":null}, "y": {"field":"k","type":"quantitative","scale":{"domain":[-93.92,185.27],"nice":false,"zero":false},"axis":null}, "text": {"field":"t"}}}
]},
{"layer": [
 {"data": {"values": [{"v":-14.4},{"v":-7.35},{"v":0}]}, "mark": {"type":"rule","color":"#222","strokeWidth":1},
  "encoding": {"x": {"datum":0,"type":"quantitative","scale":{"domain":[-1.849,15.12],"nice":false,"zero":false},"axis":null}, "x2": {"datum":11.5}, "y": {"field":"v","type":"quantitative","scale":{"domain":[448.53,-932.49],"nice":false,"zero":false},"axis":null}}},
 {"data": {"values": [{"v":50}]}, "mark": {"type":"rule","color":"#999","strokeWidth":1.2},
  "encoding": {"x": {"datum":0,"type":"quantitative","scale":{"domain":[-1.849,15.12],"nice":false,"zero":false},"axis":null}, "x2": {"datum":11.55}, "y": {"field":"v","type":"quantitative","scale":{"domain":[448.53,-932.49],"nice":false,"zero":false},"axis":null}}},
 {"data": {"values": [{"v":100}]}, "mark": {"type":"rule","color":"#222","strokeWidth":1.2},
  "encoding": {"x": {"datum":0,"type":"quantitative","scale":{"domain":[-1.849,15.12],"nice":false,"zero":false},"axis":null}, "x2": {"datum":11.55}, "y": {"field":"v","type":"quantitative","scale":{"domain":[448.53,-932.49],"nice":false,"zero":false},"axis":null}}},
 {"mark": {"type":"rule","color":"#222","strokeWidth":1.2},
  "encoding": {"x": {"datum":11.41,"type":"quantitative","scale":{"domain":[-1.849,15.12],"nice":false,"zero":false},"axis":null}, "y": {"datum":0,"type":"quantitative","scale":{"domain":[448.53,-932.49],"nice":false,"zero":false},"axis":null}, "y2": {"datum":123.7}}},
 {"mark": {"type":"rule","color":"#111","strokeWidth":2},
  "encoding": {"x": {"datum":6.1,"type":"quantitative","scale":{"domain":[-1.849,15.12],"nice":false,"zero":false},"axis":null}, "y": {"datum":0,"type":"quantitative","scale":{"domain":[448.53,-932.49],"nice":false,"zero":false},"axis":null}, "y2": {"datum":100}}},
 {"data": {"name":"scurve"}, "mark": {"type":"line","color":"#222","strokeWidth":0.9},
  "encoding": {"x": {"field":"d","type":"quantitative","scale":{"domain":[-1.849,15.12],"nice":false,"zero":false},"axis":null}, "y": {"field":"s","type":"quantitative","scale":{"domain":[448.53,-932.49],"nice":false,"zero":false},"axis":null}}},
 {"mark": {"type":"rect","fill":"#808080","stroke":"#333","strokeWidth":0.8},
  "encoding": {"x": {"datum":0,"type":"quantitative","scale":{"domain":[-1.849,15.12],"nice":false,"zero":false},"axis":null}, "x2": {"datum":1.04}, "y": {"datum":-13.6,"type":"quantitative","scale":{"domain":[448.53,-932.49],"nice":false,"zero":false},"axis":null}, "y2": {"datum":-1.1}}},
 {"mark": {"type":"rect","fill":"#fff","stroke":"#222","strokeWidth":1},
  "encoding": {"x": {"datum":6.1,"type":"quantitative","scale":{"domain":[-1.849,15.12],"nice":false,"zero":false},"axis":null}, "x2": {"datum":6.42}, "y": {"datum":-14.4,"type":"quantitative","scale":{"domain":[448.53,-932.49],"nice":false,"zero":false},"axis":null}, "y2": {"datum":-0.7}}},
 {"data": {"values": [{"a":6.1,"b":6.42,"p":-14.4,"q":-0.7},{"a":6.1,"b":6.42,"p":-0.7,"q":-14.4}]}, "mark": {"type":"rule","color":"#222","strokeWidth":1},
  "encoding": {"x": {"field":"a","type":"quantitative","scale":{"domain":[-1.849,15.12],"nice":false,"zero":false},"axis":null}, "x2": {"field":"b"}, "y": {"field":"p","type":"quantitative","scale":{"domain":[448.53,-932.49],"nice":false,"zero":false},"axis":null}, "y2": {"field":"q"}}},
 {"data": {"name":"bandticks"}, "mark": {"type":"rule","color":"#222","strokeWidth":1},
  "encoding": {"x": {"field":"d","type":"quantitative","scale":{"domain":[-1.849,15.12],"nice":false,"zero":false},"axis":null}, "y": {"datum":-14.4,"type":"quantitative","scale":{"domain":[448.53,-932.49],"nice":false,"zero":false},"axis":null}, "y2": {"datum":-0.7}}},
 {"data": {"values": [{"d":8.56,"v":19,"t":"+"},{"d":9.04,"v":19,"t":"0"},{"d":10.04,"v":19,"t":"+"}]}, "mark": {"type":"text","angle":270,"align":"center","baseline":"middle","fontSize":10},
  "encoding": {"x": {"field":"d","type":"quantitative","scale":{"domain":[-1.849,15.12],"nice":false,"zero":false},"axis":null}, "y": {"field":"v","type":"quantitative","scale":{"domain":[448.53,-932.49],"nice":false,"zero":false},"axis":null}, "text": {"field":"t"}}},
 {"data": {"values": [{"d":8.4,"v":-14.4,"t":"<"},{"d":8.4,"v":0,"t":"<"}]}, "mark": {"type":"text","align":"center","baseline":"middle","fontSize":10},
  "encoding": {"x": {"field":"d","type":"quantitative","scale":{"domain":[-1.849,15.12],"nice":false,"zero":false},"axis":null}, "y": {"field":"v","type":"quantitative","scale":{"domain":[448.53,-932.49],"nice":false,"zero":false},"axis":null}, "text": {"field":"t"}}},
 {"data": {"values": [{"d":11.72,"v":47.5,"t":"50"},{"d":11.72,"v":99.6,"t":"100"}]}, "mark": {"type":"text","angle":270,"align":"center","baseline":"middle","fontSize":11},
  "encoding": {"x": {"field":"d","type":"quantitative","scale":{"domain":[-1.849,15.12],"nice":false,"zero":false},"axis":null}, "y": {"field":"v","type":"quantitative","scale":{"domain":[448.53,-932.49],"nice":false,"zero":false},"axis":null}, "text": {"field":"t"}}},
 {"data": {"values": [{"d":12.11,"v":72.9,"t":"s/0.20m"}]}, "mark": {"type":"text","angle":270,"align":"left","baseline":"middle","fontSize":11},
  "encoding": {"x": {"field":"d","type":"quantitative","scale":{"domain":[-1.849,15.12],"nice":false,"zero":false},"axis":null}, "y": {"field":"v","type":"quantitative","scale":{"domain":[448.53,-932.49],"nice":false,"zero":false},"axis":null}, "text": {"field":"t"}}}
]},
{"layer": [
 {"data": {"name":"bars1"}, "mark": {"type":"rect","fill":"#fff","stroke":"#777","strokeWidth":0.8},
  "encoding": {"x": {"field":"d0","type":"quantitative","scale":{"domain":[-1.849,15.12],"nice":false,"zero":false},"axis":null}, "x2": {"field":"d1"}, "y": {"field":"s","type":"quantitative","scale":{"domain":[-116.04,858.49],"nice":false,"zero":false},"axis":null}, "y2": {"datum":0}}},
 {"data": {"name":"bars1"}, "mark": {"type":"rule","color":"#222","strokeWidth":1.3},
  "encoding": {"x": {"field":"d0","type":"quantitative","scale":{"domain":[-1.849,15.12],"nice":false,"zero":false},"axis":null}, "x2": {"field":"d1"}, "y": {"field":"s","type":"quantitative","scale":{"domain":[-116.04,858.49],"nice":false,"zero":false},"axis":null}}},
 {"data": {"values": [{"v":0}]}, "mark": {"type":"rule","color":"#222","strokeWidth":1.3},
  "encoding": {"x": {"datum":0,"type":"quantitative","scale":{"domain":[-1.849,15.12],"nice":false,"zero":false},"axis":null}, "x2": {"datum":11.5}, "y": {"field":"v","type":"quantitative","scale":{"domain":[-116.04,858.49],"nice":false,"zero":false},"axis":null}}},
 {"data": {"values": [{"v":-4.7}]}, "mark": {"type":"rule","color":"#555","strokeWidth":1},
  "encoding": {"x": {"datum":0,"type":"quantitative","scale":{"domain":[-1.849,15.12],"nice":false,"zero":false},"axis":null}, "x2": {"datum":11.5}, "y": {"field":"v","type":"quantitative","scale":{"domain":[-116.04,858.49],"nice":false,"zero":false},"axis":null}}},
 {"data": {"values": [{"v":-10.4}]}, "mark": {"type":"rule","color":"#bbb","strokeWidth":1},
  "encoding": {"x": {"datum":0,"type":"quantitative","scale":{"domain":[-1.849,15.12],"nice":false,"zero":false},"axis":null}, "x2": {"datum":11.5}, "y": {"field":"v","type":"quantitative","scale":{"domain":[-116.04,858.49],"nice":false,"zero":false},"axis":null}}},
 {"mark": {"type":"rule","color":"#222","strokeWidth":1.2},
  "encoding": {"x": {"datum":11.41,"type":"quantitative","scale":{"domain":[-1.849,15.12],"nice":false,"zero":false},"axis":null}, "y": {"datum":0,"type":"quantitative","scale":{"domain":[-116.04,858.49],"nice":false,"zero":false},"axis":null}, "y2": {"datum":87.7}}},
 {"mark": {"type":"rule","color":"#222","strokeWidth":1.2},
  "encoding": {"x": {"datum":11.02,"type":"quantitative","scale":{"domain":[-1.849,15.12],"nice":false,"zero":false},"axis":null}, "x2": {"datum":11.5}, "y": {"datum":70.8,"type":"quantitative","scale":{"domain":[-116.04,858.49],"nice":false,"zero":false},"axis":null}}},
 {"mark": {"type":"rect","fill":"#808080","stroke":"#333","strokeWidth":0.8},
  "encoding": {"x": {"datum":0,"type":"quantitative","scale":{"domain":[-1.849,15.12],"nice":false,"zero":false},"axis":null}, "x2": {"datum":1.04}, "y": {"datum":0,"type":"quantitative","scale":{"domain":[-116.04,858.49],"nice":false,"zero":false},"axis":null}, "y2": {"datum":-11}}},
 {"mark": {"type":"rect","fill":"#fff","stroke":"#222","strokeWidth":1},
  "encoding": {"x": {"datum":6.1,"type":"quantitative","scale":{"domain":[-1.849,15.12],"nice":false,"zero":false},"axis":null}, "x2": {"datum":6.42}, "y": {"datum":0,"type":"quantitative","scale":{"domain":[-116.04,858.49],"nice":false,"zero":false},"axis":null}, "y2": {"datum":-11}}},
 {"data": {"values": [{"a":6.1,"b":6.42,"p":0,"q":-11},{"a":6.1,"b":6.42,"p":-11,"q":0}]}, "mark": {"type":"rule","color":"#222","strokeWidth":1},
  "encoding": {"x": {"field":"a","type":"quantitative","scale":{"domain":[-1.849,15.12],"nice":false,"zero":false},"axis":null}, "x2": {"field":"b"}, "y": {"field":"p","type":"quantitative","scale":{"domain":[-116.04,858.49],"nice":false,"zero":false},"axis":null}, "y2": {"field":"q"}}},
 {"data": {"values": [{"d":8.87},{"d":9.36},{"d":10.82}]}, "mark": {"type":"rule","color":"#222","strokeWidth":1},
  "encoding": {"x": {"field":"d","type":"quantitative","scale":{"domain":[-1.849,15.12],"nice":false,"zero":false},"axis":null}, "y": {"datum":-2,"type":"quantitative","scale":{"domain":[-116.04,858.49],"nice":false,"zero":false},"axis":null}, "y2": {"datum":-10.4}}},
 {"data": {"values": [{"d":8.65,"v":-36.8,"t":"-"},{"d":9.12,"v":-36.8,"t":"0"},{"d":10.1,"v":-36.8,"t":"-"}]}, "mark": {"type":"text","angle":270,"align":"center","baseline":"middle","fontSize":10},
  "encoding": {"x": {"field":"d","type":"quantitative","scale":{"domain":[-1.849,15.12],"nice":false,"zero":false},"axis":null}, "y": {"field":"v","type":"quantitative","scale":{"domain":[-116.04,858.49],"nice":false,"zero":false},"axis":null}, "text": {"field":"t"}}},
 {"data": {"values": [{"d":8.3,"v":-2,"t":"<"},{"d":8.3,"v":-11,"t":"<"}]}, "mark": {"type":"text","align":"center","baseline":"middle","fontSize":9},
  "encoding": {"x": {"field":"d","type":"quantitative","scale":{"domain":[-1.849,15.12],"nice":false,"zero":false},"axis":null}, "y": {"field":"v","type":"quantitative","scale":{"domain":[-116.04,858.49],"nice":false,"zero":false},"axis":null}, "text": {"field":"t"}}},
 {"data": {"values": [{"d":11.09,"v":50,"t":"50"},{"d":11.65,"v":83,"t":"100"}]}, "mark": {"type":"text","angle":270,"align":"center","baseline":"middle","fontSize":11},
  "encoding": {"x": {"field":"d","type":"quantitative","scale":{"domain":[-1.849,15.12],"nice":false,"zero":false},"axis":null}, "y": {"field":"v","type":"quantitative","scale":{"domain":[-116.04,858.49],"nice":false,"zero":false},"axis":null}, "text": {"field":"t"}}},
 {"data": {"values": [{"d":11.49,"v":23,"t":"s/0.20m"}]}, "mark": {"type":"text","angle":270,"align":"left","baseline":"middle","fontSize":11},
  "encoding": {"x": {"field":"d","type":"quantitative","scale":{"domain":[-1.849,15.12],"nice":false,"zero":false},"axis":null}, "y": {"field":"v","type":"quantitative","scale":{"domain":[-116.04,858.49],"nice":false,"zero":false},"axis":null}, "text": {"field":"t"}}},
 {"data": {"values": [{"d":-0.78,"v":4.7,"t":"Jb1"}]}, "mark": {"type":"text","angle":270,"align":"center","baseline":"middle","fontSize":17},
  "encoding": {"x": {"field":"d","type":"quantitative","scale":{"domain":[-1.849,15.12],"nice":false,"zero":false},"axis":null}, "y": {"field":"v","type":"quantitative","scale":{"domain":[-116.04,858.49],"nice":false,"zero":false},"axis":null}, "text": {"field":"t"}}},
 {"data": {"values": [{"d":-0.17,"v":-2,"t":"Jb"}]}, "mark": {"type":"text","angle":270,"align":"center","baseline":"middle","fontSize":10},
  "encoding": {"x": {"field":"d","type":"quantitative","scale":{"domain":[-1.849,15.12],"nice":false,"zero":false},"axis":null}, "y": {"field":"v","type":"quantitative","scale":{"domain":[-116.04,858.49],"nice":false,"zero":false},"axis":null}, "text": {"field":"t"}}}
]}
]
}
